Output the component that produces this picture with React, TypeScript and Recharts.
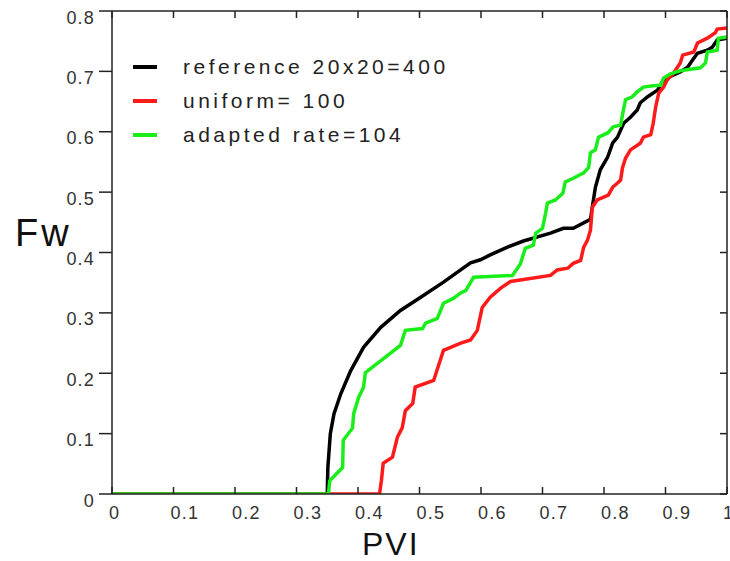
import React from 'react';
import { LineChart, Line, XAxis, YAxis, Legend } from 'recharts';

// x = PVI, y = Fw
const reference: [number, number][] = [
  [0, 0], [0.35, 0], [0.351, 0.044], [0.355, 0.1], [0.361, 0.133], [0.372, 0.166],
  [0.388, 0.204], [0.409, 0.243], [0.437, 0.276], [0.469, 0.304], [0.502, 0.326],
  [0.539, 0.351], [0.583, 0.383], [0.599, 0.388], [0.615, 0.396], [0.643, 0.409],
  [0.669, 0.419], [0.713, 0.432], [0.734, 0.44], [0.75, 0.44], [0.778, 0.455],
  [0.781, 0.475], [0.786, 0.508], [0.794, 0.537], [0.806, 0.558], [0.814, 0.581],
  [0.822, 0.591], [0.832, 0.614], [0.843, 0.624], [0.854, 0.636], [0.859, 0.648],
  [0.871, 0.658], [0.887, 0.669], [0.897, 0.686], [0.913, 0.694], [0.924, 0.699],
  [0.936, 0.707], [0.944, 0.719], [0.952, 0.73], [0.968, 0.735], [0.976, 0.74],
  [0.984, 0.752], [1.0, 0.755],
];

const uniform: [number, number][] = [
  [0, 0], [0.435, 0], [0.438, 0.022], [0.441, 0.051], [0.456, 0.061], [0.464, 0.094],
  [0.472, 0.11], [0.477, 0.138], [0.489, 0.15], [0.493, 0.177], [0.523, 0.188],
  [0.539, 0.238], [0.567, 0.25], [0.583, 0.255], [0.594, 0.271], [0.602, 0.309],
  [0.615, 0.326], [0.632, 0.341], [0.648, 0.352], [0.713, 0.362], [0.724, 0.371],
  [0.741, 0.374], [0.75, 0.382], [0.762, 0.387], [0.767, 0.409], [0.773, 0.42],
  [0.778, 0.437], [0.781, 0.475], [0.789, 0.487], [0.807, 0.495], [0.814, 0.508],
  [0.822, 0.515], [0.827, 0.52], [0.83, 0.54], [0.835, 0.556], [0.843, 0.57],
  [0.859, 0.581], [0.864, 0.591], [0.876, 0.595], [0.88, 0.614], [0.884, 0.641],
  [0.889, 0.664], [0.897, 0.674], [0.903, 0.686], [0.913, 0.697], [0.924, 0.714],
  [0.928, 0.727], [0.946, 0.732], [0.952, 0.747], [0.968, 0.755], [0.981, 0.764],
  [0.984, 0.77], [1.0, 0.772],
];

const adapted: [number, number][] = [
  [0, 0], [0.352, 0], [0.354, 0.022], [0.375, 0.044], [0.376, 0.089], [0.391, 0.109],
  [0.393, 0.133], [0.401, 0.16], [0.409, 0.177], [0.412, 0.201], [0.469, 0.246],
  [0.477, 0.271], [0.505, 0.274], [0.51, 0.283], [0.529, 0.291], [0.539, 0.316],
  [0.555, 0.324], [0.567, 0.333], [0.575, 0.337], [0.588, 0.359], [0.651, 0.362],
  [0.664, 0.381], [0.672, 0.407], [0.685, 0.412], [0.689, 0.432], [0.7, 0.44],
  [0.705, 0.465], [0.708, 0.482], [0.721, 0.487], [0.733, 0.498], [0.737, 0.517],
  [0.75, 0.523], [0.767, 0.532], [0.775, 0.541], [0.778, 0.565], [0.786, 0.57],
  [0.791, 0.591], [0.806, 0.598], [0.815, 0.608], [0.827, 0.611], [0.83, 0.628],
  [0.835, 0.653], [0.846, 0.658], [0.854, 0.666], [0.864, 0.674], [0.88, 0.676],
  [0.892, 0.677], [0.897, 0.689], [0.908, 0.696], [0.924, 0.701], [0.957, 0.706],
  [0.965, 0.714], [0.968, 0.732], [0.984, 0.735], [0.986, 0.755], [1.0, 0.757],
];

const seriesNames = ['reference 20x20=400', 'uniform= 100', 'adapted rate=104'];
const seriesColors = ['#000', '#ff1a1a', '#1aee1a'];

const xTicks = [0, 0.1, 0.2, 0.3, 0.4, 0.5, 0.6, 0.7, 0.8, 0.9, 1];
const yTicks = [0, 0.1, 0.2, 0.3, 0.4, 0.5, 0.6, 0.7, 0.8];

const toPoints = (arr: [number, number][]) => arr.map(([x, y]) => ({ x, y }));

const font = '"Liberation Sans", Arial, sans-serif';
const axisColor = '#222';
const labelColor = '#333';

const BottomTick = (p: any) => (
  <text x={p.x - 3} y={p.y + 12} fontSize={18} letterSpacing={1.2} fill={labelColor} textAnchor="start" fontFamily={font}>
    {String(p.payload.value)}
  </text>
);

const LeftTick = (p: any) => (
  <text x={p.x + 1} y={p.y + 12.5} fontSize={18} letterSpacing={1.2} fill={labelColor} textAnchor="end" fontFamily={font}>
    {String(p.payload.value)}
  </text>
);

const NoLabel = () => <g />;

// keep legend rows in the series order, not alphabetic
const renderLegend = (props: any) => {
  const items = [...(props.payload || [])].sort(
    (a: any, b: any) => seriesNames.indexOf(a.value) - seriesNames.indexOf(b.value)
  );
  return (
    <div style={{ fontFamily: font }}>
      {items.map((entry: any) => (
        <div key={entry.value} style={{ display: 'flex', alignItems: 'center', height: 34 }}>
          <span style={{ display: 'inline-block', width: 24, height: 4, background: entry.color, marginRight: 26 }} />
          <span style={{ fontSize: 21, letterSpacing: 3.5, color: '#222' }}>{entry.value}</span>
        </div>
      ))}
    </div>
  );
};

export default function App() {
  return (
    <div style={{ position: 'absolute', left: 0, top: 0, width: 730, height: 561, background: '#fff' }}>
      <LineChart width={730} height={561} margin={{ top: 0, right: 0, bottom: 0, left: 0 }}>
        <XAxis
          dataKey="x"
          type="number"
          domain={[0, 1]}
          ticks={xTicks}
          height={67}
          tickSize={-7}
          tickMargin={20}
          tick={BottomTick}
          stroke={axisColor}
          strokeWidth={1.5}
          allowDataOverflow
          label={() => (
            <text x={362} y={555} fontSize={32} letterSpacing={2} fill="#111" fontFamily={font}>PVI</text>
          )}
        />
        <XAxis
          xAxisId="top"
          orientation="top"
          dataKey="x"
          type="number"
          domain={[0, 1]}
          ticks={xTicks}
          height={11}
          tickSize={-7}
          tick={NoLabel}
          stroke={axisColor}
          strokeWidth={1.5}
          allowDataOverflow
        />
        <YAxis
          type="number"
          domain={[0, 0.8]}
          ticks={yTicks}
          width={112}
          tickSize={13}
          tickMargin={5}
          tick={LeftTick}
          stroke={axisColor}
          strokeWidth={1.5}
          allowDataOverflow
          label={() => (
            <text x={15} y={246} fontSize={38} letterSpacing={3} fill="#111" fontFamily={font}>Fw</text>
          )}
        />
        <YAxis
          yAxisId="right"
          orientation="right"
          type="number"
          domain={[0, 0.8]}
          ticks={yTicks}
          width={3}
          tickSize={-7}
          tick={NoLabel}
          stroke={axisColor}
          strokeWidth={1.5}
          allowDataOverflow
        />
        <Legend
          layout="vertical"
          align="center"
          verticalAlign="middle"
          wrapperStyle={{ left: 133, top: 50, width: 340 }}
          content={renderLegend}
        />
        <Line data={toPoints(reference)} dataKey="y" name={seriesNames[0]} stroke={seriesColors[0]} strokeWidth={3.5} dot={false} isAnimationActive={false} type="linear" />
        <Line data={toPoints(uniform)} dataKey="y" name={seriesNames[1]} stroke={seriesColors[1]} strokeWidth={3.5} dot={false} isAnimationActive={false} type="linear" />
        <Line data={toPoints(adapted)} dataKey="y" name={seriesNames[2]} stroke={seriesColors[2]} strokeWidth={3.5} dot={false} isAnimationActive={false} type="linear" />
      </LineChart>
    </div>
  );
}
